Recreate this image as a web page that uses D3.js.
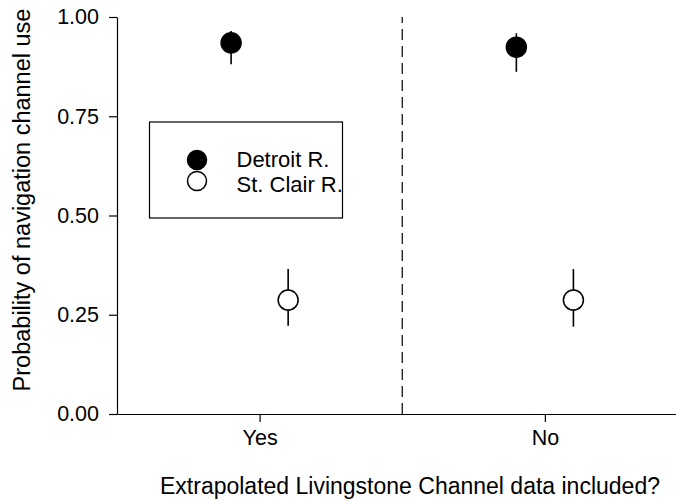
<!DOCTYPE html>
<html>
<head>
<meta charset="utf-8">
<script src="https://cdn.jsdelivr.net/npm/d3@7"></script>
<style>
	body { margin: 0; background: #fff; }
	svg { display: block; font-family: "Liberation Sans", Arial, sans-serif; }
</style>
</head>
<body>
<div id="chart"></div>
<script>
// categories on the x axis (numeric positions 1, 2)
const groups = ["Yes", "No"];
const groupPos = [1, 2];
const yTicks = [0, 0.25, 0.5, 0.75, 1];

const seriesNames = ["Detroit R.", "St. Clair R."];
const detroitMean = [0.935, 0.924];
const detroitLow = [0.881, 0.862];
const detroitHigh = [0.965, 0.959];
const stClairMean = [0.287, 0.287];
const stClairLow = [0.222, 0.220];
const stClairHigh = [0.365, 0.365];

const width = 676, height = 501;
const margin = { top: 17, left: 117, bottom: 87 };

const svg = d3.select("#chart").append("svg")
	.attr("width", width)
	.attr("height", height);

const x = d3.scaleLinear().domain([0.5, 2.5]).range([margin.left, 687.5]);
const y = d3.scaleLinear().domain([0, 1]).range([height - margin.bottom, margin.top]);

// x axis
const xAxis = svg.append("g")
	.attr("transform", "translate(0," + y(0) + ")")
	.call(d3.axisBottom(x)
		.tickValues(groupPos)
		.tickFormat((d, i) => groups[i])
		.tickSize(8)
		.tickSizeOuter(0)
		.tickPadding(8));
xAxis.selectAll("text").style("font-size", "21.5px").attr("fill", "#000");

// y axis
const yAxis = svg.append("g")
	.attr("transform", "translate(" + margin.left + ",0)")
	.call(d3.axisLeft(y)
		.tickValues(yTicks)
		.tickFormat(d3.format(".2f"))
		.tickSize(8)
		.tickSizeOuter(0)
		.tickPadding(10));
yAxis.selectAll("text").style("font-size", "21.5px").attr("fill", "#000");
svg.selectAll(".domain, .tick line").attr("stroke", "#000").attr("stroke-width", 1.2);

// dashed divider between groups
svg.append("line")
	.attr("x1", x(1.5)).attr("x2", x(1.5))
	.attr("y1", y(0)).attr("y2", y(1))
	.attr("stroke", "#000")
	.attr("stroke-width", 1.2)
	.attr("stroke-dasharray", "11,6");

// axis titles
svg.append("text")
	.attr("transform", "translate(30,200) rotate(-90)")
	.attr("text-anchor", "middle")
	.style("font-size", "23.5px")
	.text("Probability of navigation channel use");

svg.append("text")
	.attr("x", 410)
	.attr("y", 494)
	.attr("text-anchor", "middle")
	.style("font-size", "23px")
	.text("Extrapolated Livingstone Channel data included?");

// points with error bars
const series = [
	{ mean: detroitMean, low: detroitLow, high: detroitHigh, dodge: -0.1, fill: "#000" },
	{ mean: stClairMean, low: stClairLow, high: stClairHigh, dodge: 0.1, fill: "#fff" }
];

series.forEach(s => {
	const g = svg.append("g");
	const pts = groupPos.map((p, i) => ({ x: p + s.dodge, m: s.mean[i], lo: s.low[i], hi: s.high[i] }));
	g.selectAll("line")
		.data(pts)
		.join("line")
		.attr("x1", d => x(d.x)).attr("x2", d => x(d.x))
		.attr("y1", d => y(d.lo)).attr("y2", d => y(d.hi))
		.attr("stroke", "#000")
		.attr("stroke-width", 1.6);
	g.selectAll("circle")
		.data(pts)
		.join("circle")
		.attr("cx", d => x(d.x))
		.attr("cy", d => y(d.m))
		.attr("r", 10)
		.attr("fill", s.fill)
		.attr("stroke", "#000")
		.attr("stroke-width", 1.5);
});

// legend
const legend = svg.append("g").attr("transform", "translate(149.5,122)");
legend.append("rect")
	.attr("width", 193)
	.attr("height", 96)
	.attr("fill", "#fff")
	.attr("stroke", "#000")
	.attr("stroke-width", 1.2);
seriesNames.forEach((name, i) => {
	legend.append("circle")
		.attr("cx", 47.5)
		.attr("cy", 38 + i * 21)
		.attr("r", 9.5)
		.attr("fill", series[i].fill)
		.attr("stroke", "#000")
		.attr("stroke-width", 1.5);
	legend.append("text")
		.attr("x", 87)
		.attr("y", 45 + i * 25)
		.style("font-size", "22px")
		.text(name);
});
</script>
</body>
</html>
